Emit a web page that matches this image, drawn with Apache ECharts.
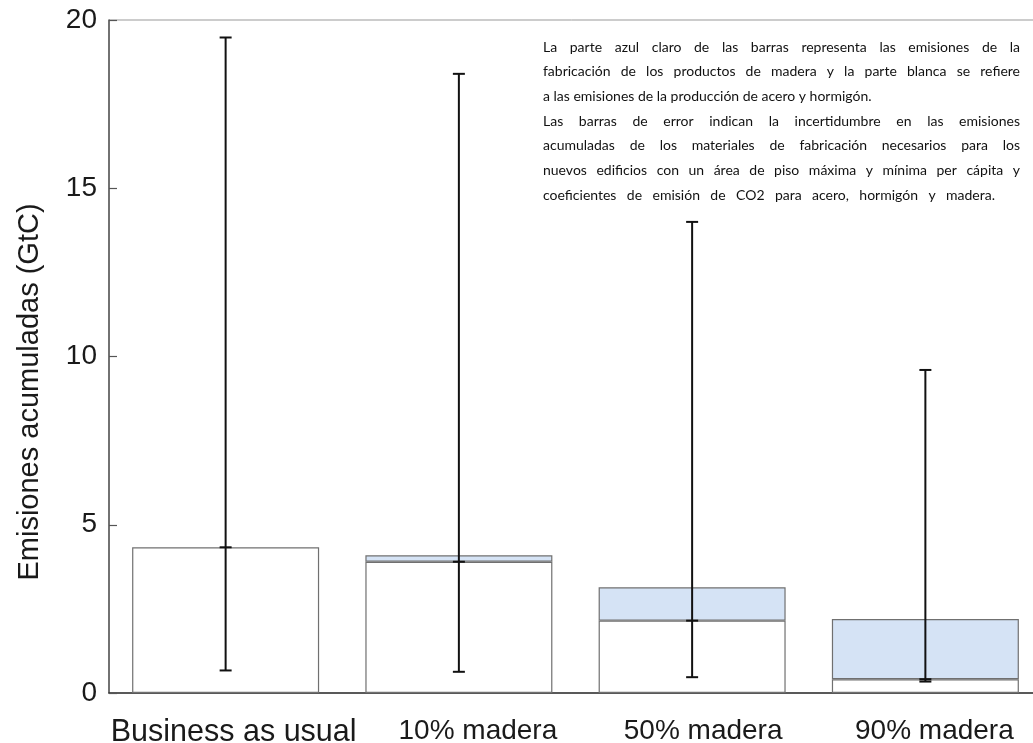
<!DOCTYPE html>
<html>
<head>
<meta charset="utf-8">
<script src="https://cdn.jsdelivr.net/npm/echarts@6/dist/echarts.min.js"></script>
<style>
  html, body { margin: 0; padding: 0; background: #fff; }
  #chart { width: 1033px; height: 743px; }
</style>
</head>
<body>
<div id="chart"></div>
<script>
// Scenarios and cumulative emissions (GtC)
const categories = ['Business as usual', '10% madera', '50% madera', '90% madera'];
const steelConcrete = [4.33, 3.90, 2.15, 0.41];   // white part: steel + concrete
const woodProducts = [null, 0.19, 0.99, 1.79];     // light-blue part: wood products
const errLow = [0.67, 0.63, 0.47, 0.34];
const errHigh = [19.48, 18.40, 14.00, 9.60];
const yTicks = [0, 5, 10, 15, 20];

const noteLines = [
  'La parte azul claro de las barras representa las emisiones de la',
  'fabricación de los productos de madera y la parte blanca se refiere',
  'a las emisiones de la producción de acero y hormigón.',
  'Las barras de error indican la incertidumbre en las emisiones',
  'acumuladas de los materiales de fabricación necesarios para los',
  'nuevos edificios con un área de piso máxima y mínima per cápita y',
  'coeficientes de emisión de CO2 para acero, hormigón y madera.'
];

// Layout / style constants
const labelFont = '"Liberation Sans", Arial, Helvetica, sans-serif';
const labelShift = [8, 19, 11, 9];
const labelSize = [30.5, 28, 28, 28];
const note = { left: 543, top: 47, lineGap: 24.7, size: 14, family: 'Lato, "Open Sans", sans-serif' };
// right edge each text line is spread to (null = natural word spacing)
const noteLineRight = [1020, 1020, null, 1020, 1020, 1020, 995];

const chart = echarts.init(document.getElementById('chart'), null, { renderer: 'canvas' });

// Justified annotation block: each word placed as its own text element
function buildNote() {
  const ctx = document.createElement('canvas').getContext('2d');
  ctx.font = note.size + 'px ' + note.family;
  const els = [];
  noteLines.forEach((line, li) => {
    const y = note.top + li * note.lineGap;
    const words = line.split(' ');
    const right = noteLineRight[li];
    if (right && words.length > 1) {
      const widths = words.map(w => ctx.measureText(w).width);
      const total = widths.reduce((a, b) => a + b, 0);
      const gap = (right - note.left - total) / (words.length - 1);
      let x = note.left;
      words.forEach((w, wi) => {
        els.push({ type: 'text', x: x, y: y, silent: true,
          style: { text: w, fontSize: note.size, fontFamily: note.family, fill: '#111', verticalAlign: 'middle' } });
        x += widths[wi] + gap;
      });
    } else {
      els.push({ type: 'text', x: note.left, y: y, silent: true,
        style: { text: line, fontSize: note.size, fontFamily: note.family, fill: '#111', verticalAlign: 'middle' } });
    }
  });
  return els;
}

const errorData = categories.map((c, i) => [i, errLow[i], errHigh[i], steelConcrete[i]]);

const option = {
  backgroundColor: '#fff',
  animation: false,
  grid: {
    left: 109, top: 20, width: 933, height: 673,
    outerBoundsMode: 'none', containLabel: false,
    show: true, borderColor: '#999', borderWidth: 1
  },
  xAxis: {
    type: 'category',
    data: categories.map((c, i) => ({
      value: c,
      textStyle: { fontSize: labelSize[i], padding: [0, 0, 0, 2 * labelShift[i]] }
    })),
    axisLine: { show: true, lineStyle: { color: '#333', width: 1.6 } },
    axisTick: { show: false },
    axisLabel: { interval: 0, margin: 24, fontSize: 28, fontFamily: labelFont, color: '#1a1a1a' },
    splitLine: { show: false }
  },
  yAxis: {
    type: 'value',
    min: yTicks[0],
    max: yTicks[yTicks.length - 1],
    interval: yTicks[1] - yTicks[0],
    axisLine: { show: true, lineStyle: { color: '#555', width: 1.5 } },
    axisTick: { show: true, inside: true, length: 8, lineStyle: { color: '#555', width: 1.2 } },
    axisLabel: { margin: 12, fontSize: 28, fontFamily: labelFont, color: '#1a1a1a' },
    splitLine: { show: false }
  },
  graphic: [
    { type: 'text', x: 30, y: 392, rotation: Math.PI / 2, silent: true,
      style: { text: 'Emisiones acumuladas (GtC)', fontSize: 29, fontFamily: labelFont, fill: '#1a1a1a',
               align: 'center', verticalAlign: 'middle' } }
  ].concat(buildNote()),
  series: [
    {
      name: 'Acero y hormigón',
      type: 'bar',
      stack: 'total',
      barWidth: 187,
      data: steelConcrete,
      itemStyle: { color: '#ffffff', borderColor: '#707070', borderWidth: 1.2 }
    },
    {
      name: 'Productos de madera',
      type: 'bar',
      stack: 'total',
      barWidth: 187,
      data: woodProducts,
      itemStyle: { color: '#d5e3f5', borderColor: '#707070', borderWidth: 1.2 }
    },
    {
      name: 'Incertidumbre',
      type: 'custom',
      z: 10,
      data: errorData,
      encode: { x: 0, y: [1, 2] },
      renderItem: function (params, api) {
        const i = api.value(0);
        const lo = api.coord([i, api.value(1)]);
        const hi = api.coord([i, api.value(2)]);
        const mid = api.coord([i, api.value(3)]);
        const x = lo[0];
        const hw = 6;
        const style = { stroke: '#111', lineWidth: 2 };
        return {
          type: 'group',
          children: [
            { type: 'line', shape: { x1: x, y1: lo[1], x2: x, y2: hi[1] }, style: style },
            { type: 'line', shape: { x1: x - hw, y1: lo[1], x2: x + hw, y2: lo[1] }, style: style },
            { type: 'line', shape: { x1: x - hw, y1: hi[1], x2: x + hw, y2: hi[1] }, style: style },
            { type: 'line', shape: { x1: x - hw, y1: mid[1], x2: x + hw, y2: mid[1] }, style: style }
          ]
        };
      }
    }
  ]
};

chart.setOption(option);
</script>
</body>
</html>
